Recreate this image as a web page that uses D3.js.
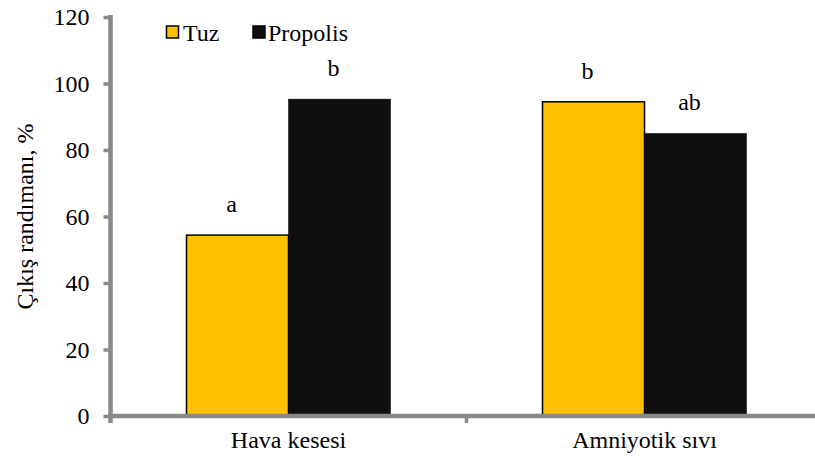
<!DOCTYPE html>
<html>
<head>
<meta charset="utf-8">
<script src="https://cdn.jsdelivr.net/npm/d3@7"></script>
</head>
<body style="margin:0;background:#fff">
<script>
const categories = ["Hava kesesi", "Amniyotik sıvı"];
const seriesNames = ["Tuz", "Propolis"];
const tuzValues = [54.4, 94.5];
const propolisValues = [95.3, 85.0];
const tuzLetters = ["a", "b"];
const propolisLetters = ["b", "ab"];
const yTicks = [0, 20, 40, 60, 80, 100, 120];

const W = 815, H = 462;
const fontSize = 24;
const FONT = '"Liberation Serif", "Times New Roman", serif';
const colors = { "Tuz": "#FFC000", "Propolis": "#0F0F0F" };

const svg = d3.select("body").append("svg").attr("width", W).attr("height", H)
  .style("display", "block");

const x0 = 110.5, x1 = 822.5, yBottom = 416, yTop = 17;

const x = d3.scaleBand().domain(categories).range([x0, x1]).paddingInner(0).paddingOuter(0);
const barPad = 76;
const xs = d3.scaleBand().domain(seriesNames).range([barPad, x.bandwidth() - barPad]).padding(0);
const y = d3.scaleLinear().domain([0, 120]).range([yBottom, yTop]);

const data = categories.map((c, i) => ({
  cat: c,
  vals: [
    { s: "Tuz", v: tuzValues[i], l: tuzLetters[i] },
    { s: "Propolis", v: propolisValues[i], l: propolisLetters[i] }
  ]
}));

const gBars = svg.append("g");
const groups = gBars.selectAll("g").data(data).join("g")
  .attr("transform", d => `translate(${x(d.cat)},0)`);

groups.selectAll("rect").data(d => d.vals).join("rect")
  .attr("x", d => xs(d.s))
  .attr("y", d => y(d.v))
  .attr("width", xs.bandwidth())
  .attr("height", d => y(0) - y(d.v))
  .attr("fill", d => colors[d.s])
  .attr("stroke", "#000")
  .attr("stroke-width", d => d.s === "Tuz" ? 1.5 : 0.5);

groups.selectAll("text.lab").data(d => d.vals).join("text")
  .attr("class", "lab")
  .attr("x", d => xs(d.s) + xs.bandwidth() / 2 - 6)
  .attr("y", d => y(d.v) - 23)
  .attr("text-anchor", "middle")
  .text(d => d.l);

// Y axis
const axisColor = "#898989";
const yAxis = d3.axisLeft(y).tickValues(yTicks).tickSize(7).tickPadding(14).tickFormat(d3.format("d"));
const gy = svg.append("g").attr("transform", `translate(${x0},0)`).call(yAxis);
gy.select(".domain").remove();
gy.selectAll(".tick line").attr("stroke", axisColor).attr("stroke-width", 3.5);
gy.selectAll(".tick text").attr("fill", "#000");
gy.append("line").attr("x1", 0).attr("x2", 0).attr("y1", yTop - 2).attr("y2", yBottom + 7)
  .attr("stroke", axisColor).attr("stroke-width", 4.5);

// X axis
const gx = svg.append("g");
gx.append("line").attr("x1", x0).attr("x2", x1).attr("y1", yBottom).attr("y2", yBottom)
  .attr("stroke", axisColor).attr("stroke-width", 4.5);
const boundaries = categories.map(c => x(c) + x.bandwidth());
gx.selectAll("line.tk").data(boundaries).join("line")
  .attr("class", "tk")
  .attr("x1", d => d).attr("x2", d => d)
  .attr("y1", yBottom).attr("y2", yBottom + 7)
  .attr("stroke", axisColor).attr("stroke-width", 3.5);
gx.selectAll("text").data(categories).join("text")
  .attr("x", d => x(d) + x.bandwidth() / 2)
  .attr("y", 448)
  .attr("text-anchor", "middle")
  .text(d => d);

// Y title
svg.append("text")
  .attr("transform", `translate(33,${(yTop + yBottom) / 2}) rotate(-90)`)
  .attr("text-anchor", "middle")
  .text("Çıkış randımanı, %");

// Legend
const legendItems = [
  { s: "Tuz", sx: 166.5, tx: 183 },
  { s: "Propolis", sx: 253, tx: 268 }
];
const lg = svg.append("g");
lg.selectAll("rect").data(legendItems).join("rect")
  .attr("x", d => d.sx).attr("y", 26)
  .attr("width", 12).attr("height", 12)
  .attr("fill", d => colors[d.s])
  .attr("stroke", "#000").attr("stroke-width", 1.5);
lg.selectAll("text").data(legendItems).join("text")
  .attr("x", d => d.tx).attr("y", 40.5)
  .text(d => d.s);

svg.selectAll("text")
  .style("font-family", FONT)
  .style("font-size", fontSize + "px")
  .style("fill", "#000");
</script>
</body>
</html>
